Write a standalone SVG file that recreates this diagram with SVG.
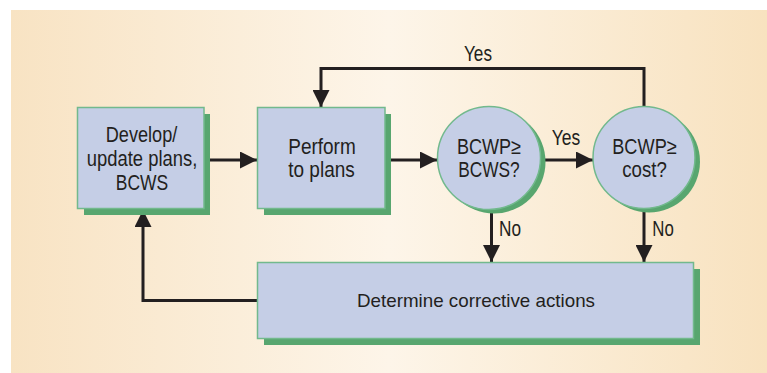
<svg xmlns="http://www.w3.org/2000/svg" width="767" height="373" viewBox="0 0 767 373">
  <defs>
    <linearGradient id="bg" x1="0" y1="0" x2="1" y2="0">
      <stop offset="0" stop-color="#f8e3c3"/>
      <stop offset="0.5" stop-color="#fdf5e9"/>
      <stop offset="1" stop-color="#f8e2bf"/>
    </linearGradient>
    <marker id="ah" viewBox="0 0 17 17" refX="17" refY="8.5" markerWidth="17" markerHeight="17" markerUnits="userSpaceOnUse" orient="auto">
      <path d="M0,0 L17,8.5 L0,17 Z" fill="#231f20"/>
    </marker>
    <style>
      .shadow { fill: #58a66f; }
      .node { fill: #c5cee6; stroke: #72b98d; stroke-width: 1.5; }
      .t { font-family: "Liberation Sans", Arial, sans-serif; font-size: 21.5px; fill: #231f20; text-anchor: middle; }
      .s { font-size: 19px; }
      .conn { fill: none; stroke: #231f20; stroke-width: 3; marker-end: url(#ah); }
    </style>
  </defs>
  <rect x="0" y="0" width="767" height="373" fill="#ffffff"/>
  <rect x="11" y="10" width="756" height="363" fill="url(#bg)"/>

  <g id="connectors">
    <path class="conn" d="M205,160 H257"/>
    <path class="conn" d="M386,160 H437"/>
    <path class="conn" d="M541,160 H593"/>
    <path class="conn" d="M644,107 V68.5 H321 V107"/>
    <path class="conn" d="M491.5,209 V262"/>
    <path class="conn" d="M644,208 V262"/>
    <path class="conn" d="M258,300.5 H143 V210"/>
  </g>

  <g id="develop">
    <rect class="shadow" x="84" y="114" width="126" height="101"/>
    <rect class="node" x="77.5" y="107.5" width="126.5" height="101"/>
    <text class="t" x="141.5" y="141.5" textLength="71.5" lengthAdjust="spacingAndGlyphs">Develop/</text>
    <text class="t" x="142" y="165.5" textLength="110.5" lengthAdjust="spacingAndGlyphs">update plans,</text>
    <text class="t" x="142" y="189.5" textLength="52.5" lengthAdjust="spacingAndGlyphs">BCWS</text>
  </g>

  <g id="perform">
    <rect class="shadow" x="264" y="114" width="127" height="101"/>
    <rect class="node" x="257.5" y="107.5" width="127.5" height="101"/>
    <text class="t" x="322" y="153.5" textLength="67.5" lengthAdjust="spacingAndGlyphs">Perform</text>
    <text class="t" x="321.5" y="176.5" textLength="66.5" lengthAdjust="spacingAndGlyphs">to plans</text>
  </g>

  <g id="check-bcws">
    <circle class="shadow" cx="494" cy="162" r="51.5"/>
    <circle class="node" cx="489" cy="158" r="51.5"/>
    <text class="t" x="489" y="153.5" textLength="64" lengthAdjust="spacingAndGlyphs">BCWP≥</text>
    <text class="t" x="489" y="176.5" textLength="61.5" lengthAdjust="spacingAndGlyphs">BCWS?</text>
  </g>

  <g id="check-cost">
    <circle class="shadow" cx="649" cy="161.5" r="51"/>
    <circle class="node" cx="644" cy="157.5" r="51"/>
    <text class="t" x="644.5" y="153.5" textLength="64.5" lengthAdjust="spacingAndGlyphs">BCWP≥</text>
    <text class="t" x="644.5" y="176.5" textLength="44.5" lengthAdjust="spacingAndGlyphs">cost?</text>
  </g>

  <g id="corrective">
    <rect class="shadow" x="264" y="269" width="436" height="76"/>
    <rect class="node" x="257.5" y="262.5" width="436" height="76"/>
    <text class="t s" x="476" y="306.5" textLength="238" lengthAdjust="spacingAndGlyphs">Determine corrective actions</text>
  </g>

  <g id="labels">
    <text class="t" x="478" y="60.5" textLength="28" lengthAdjust="spacingAndGlyphs">Yes</text>
    <text class="t" x="566" y="145" textLength="28.5" lengthAdjust="spacingAndGlyphs">Yes</text>
    <text class="t" x="510" y="236" textLength="22" lengthAdjust="spacingAndGlyphs">No</text>
    <text class="t" x="663" y="236" textLength="21.5" lengthAdjust="spacingAndGlyphs">No</text>
  </g>
</svg>
